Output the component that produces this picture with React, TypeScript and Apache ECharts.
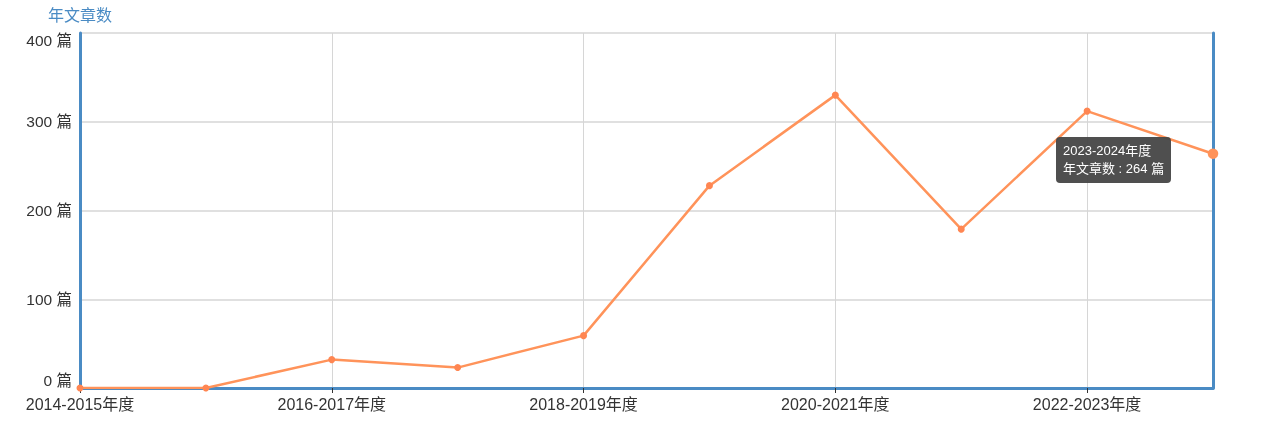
import React, { useEffect, useRef } from "react";
import * as echarts from "echarts";

const categories = [
  "2014-2015年度",
  "2015-2016年度",
  "2016-2017年度",
  "2017-2018年度",
  "2018-2019年度",
  "2019-2020年度",
  "2020-2021年度",
  "2021-2022年度",
  "2022-2023年度",
  "2023-2024年度",
];
const articleCounts = [0, 0, 32, 23, 59, 228, 330, 179, 312, 264];
const seriesName = "年文章数";
const unit = "篇";

export default function App() {
  const ref = useRef<HTMLDivElement>(null);
  useEffect(() => {
    if (!ref.current) return;
    const chart = echarts.init(ref.current, undefined, { renderer: "svg" });
    const blue = "#4a8bc4";
    const font = "Arial, 'Noto Sans CJK SC', sans-serif";
    chart.setOption({
      animation: false,
      grid: { left: 80, right: 71, top: 33, bottom: 39 },
      tooltip: {
        trigger: "item",
        backgroundColor: "rgba(70,70,70,0.95)",
        borderColor: "rgba(70,70,70,0.95)",
        borderWidth: 0,
        borderRadius: 4,
        padding: [5, 7],
        transitionDuration: 0,
        extraCssText: "box-shadow:none;",
        textStyle: { color: "#fff", fontSize: 13, fontFamily: font },
        formatter: (p: any) =>
          `<div style="line-height:18px;font-size:13px;color:#fff">${p.name}<br/>${p.seriesName} : ${p.value} ${unit}</div>`,
        position: (point: number[], _p: any, _d: any, _r: any, size: any) => [
          point[0] - size.contentSize[0] - 42,
          point[1] - 17,
        ],
      },
      xAxis: {
        type: "category",
        data: categories,
        boundaryGap: false,
        axisLine: { lineStyle: { color: blue, width: 3 } },
        axisTick: { show: true, interval: 1, alignWithLabel: true, lineStyle: { color: "#333" } },
        axisLabel: {
          interval: 1,
          color: "#333",
          fontSize: 16,
          fontFamily: font,
          margin: 8,
        },
        splitLine: { show: true, interval: 1, lineStyle: { color: "#d6d6d6", width: 1 } },
      },
      yAxis: [
        {
          type: "value",
          min: 0,
          max: 400,
          interval: 100,
          name: seriesName,
          nameLocation: "end",
          nameGap: 10,
          nameTextStyle: { color: blue, fontSize: 16, fontFamily: font },
          axisLine: { show: true, lineStyle: { color: blue, width: 3 } },
          axisTick: { show: false },
          axisLabel: {
            color: "#333",
            fontSize: 15.5,
            fontFamily: font,
            formatter: (v: number) => `${v} ${unit}`,
            verticalAlignMinLabel: "bottom",
            verticalAlignMaxLabel: "top",
          },
          splitLine: { lineStyle: { color: "#d6d6d6", width: 1.5 } },
        },
        {
          type: "value",
          min: 0,
          max: 400,
          interval: 100,
          position: "right",
          axisLine: { show: true, lineStyle: { color: blue, width: 3 } },
          axisTick: { show: false },
          axisLabel: { show: false },
          splitLine: { show: false },
        },
      ],
      series: [
        {
          name: seriesName,
          type: "line",
          data: articleCounts,
          symbol: "circle",
          symbolSize: 7,
          itemStyle: { color: "#ff8652" },
          lineStyle: { color: "#ff8652", width: 2.5 },
          emphasis: { scale: 1.5 },
        },
      ],
    });
    chart.dispatchAction({ type: "highlight", seriesIndex: 0, dataIndex: 9 });
    chart.dispatchAction({ type: "showTip", seriesIndex: 0, dataIndex: 9 });
    return () => chart.dispose();
  }, []);
  return (
    <div style={{ position: "fixed", left: 0, top: 0, width: 1284, height: 427 }}>
      <div ref={ref} style={{ position: "relative", width: 1284, height: 427 }} />
    </div>
  );
}
